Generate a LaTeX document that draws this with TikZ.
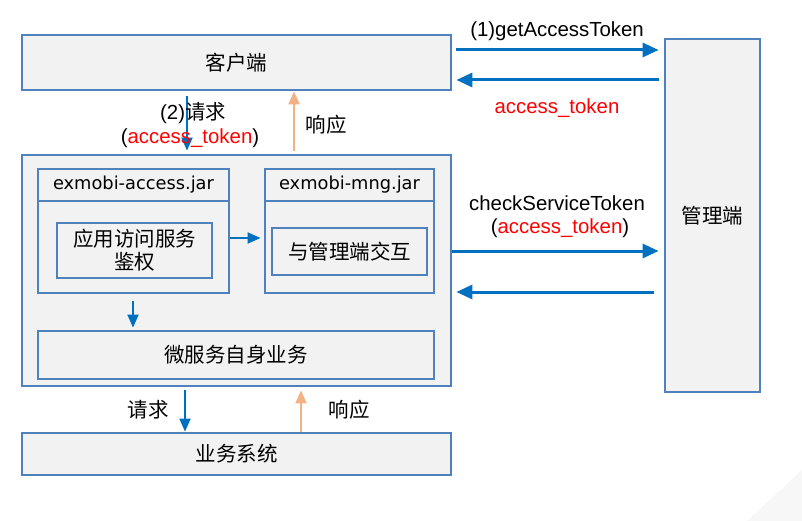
\documentclass[tikz,border=0pt]{standalone}
\usepackage{fontspec}
\setmainfont{Liberation Sans}
\newfontfamily\cjk{Noto Sans CJK SC}
\newfontfamily\verd{DejaVu Sans}
\usetikzlibrary{arrows.meta}
\definecolor{edge}{HTML}{4F81BD}
\definecolor{boxfill}{HTML}{F2F2F2}
\definecolor{arr}{HTML}{0070C0}
\definecolor{resp}{HTML}{F4B183}
\begin{document}
\begin{tikzpicture}[x=1pt, y=-1pt, font=\fontsize{20.4}{23}\selectfont,
	b/.style={draw=edge, fill=boxfill, line width=2.8pt, inner sep=0pt, font=\fontsize{20.5}{23}\selectfont\cjk},
	h/.style={b, font=\fontsize{17.8}{20}\selectfont\verd},
	a/.style={draw=arr, line width=3pt, -{Triangle[length=16pt,width=14pt]}},
	t/.style={draw=arr, line width=2pt, -{Triangle[length=13pt,width=11pt]}},
	o/.style={draw=resp, line width=2pt, -{Triangle[length=13pt,width=11pt]}},
	r/.style={text=red}]
	\useasboundingbox (0,0) rectangle (802,521);
	\fill[gray!6] (747,521) -- (802,470) -- (802,521) -- cycle;

	\node[b, minimum width=429pt, minimum height=55pt] (C) at (236.5,62.5) {客户端};
	\node[b, minimum width=95pt, minimum height=353pt] (M) at (712.5,215.5) {管理端};
	\node[b, minimum width=429pt, minimum height=231pt] (W) at (236.5,270.5) {};
	\node[b, minimum width=191pt, minimum height=92pt] (Ab) at (133.5,247) {};
	\node[h, minimum width=191pt, minimum height=32pt] (Ah) at (133.5,185) {exmobi-access.jar};
	\node[b, minimum width=155pt, minimum height=55pt, align=center] (Auth) at (134.5,250.5) {应用访问服务\\鉴权};
	\node[b, minimum width=169pt, minimum height=92pt] (Mb) at (349.5,247) {};
	\node[h, minimum width=169pt, minimum height=32pt] (Mh) at (349.5,185) {exmobi-mng.jar};
	\node[b, minimum width=155pt, minimum height=47pt] (Mi) at (349.5,251.5) {与管理端交互};
	\node[b, minimum width=396pt, minimum height=48pt] (S) at (236,355) {微服务自身业务};
	\node[b, minimum width=429pt, minimum height=42pt] (B) at (236.5,454) {业务系统};

	% client <-> manager
	\draw[a, shorten <=4pt, shorten >=5pt] ([yshift=12.5pt]C.east) coordinate (g1) -- (g1 -| M.west);
	\draw[a, shorten <=5pt, shorten >=4pt] ([yshift=-17.5pt]C.east -| M.west) coordinate (g2) -- (g2 -| C.east);
	\node (L1) at (557,31) {(1)getAccessToken};
	\node[r] (L2) at (557,108) {access\_token};

	% service <-> manager
	\draw[a, shorten >=5pt] ([yshift=19.5pt]W.east) coordinate (k1) -- (k1 -| M.west);
	\draw[a, shorten <=10pt, shorten >=4pt] ([yshift=-21.5pt]W.east -| M.west) coordinate (k2) -- (k2 -| W.east);
	\node (L3) at (557,203) {checkServiceToken};
	\node (L4) at (560,228) {(\textcolor{red}{access\_token})};

	% client <-> service
	\draw[t, shorten <=5pt, shorten >=3pt] ([xshift=-49.5pt]C.south) coordinate (q1) -- (q1 |- W.north);
	\draw[o, shorten <=3pt] ([xshift=57.5pt]W.north) coordinate (q2) -- (q2 |- C.south);
	\node (L5) at (193,113) {(2){\cjk 请求}};
	\node (L6) at (190,138) {(\textcolor{red}{access\_token})};
	\node[font=\fontsize{20.5}{23}\selectfont\cjk] (L7) at (326,125) {响应};

	% inside service
	\draw[t, shorten >=3pt] ([yshift=9pt]Ab.east) coordinate (m1) -- (m1 -| Mb.west);
	\draw[t, shorten <=7pt, shorten >=2pt] ([xshift=-0.5pt]Ab.south) coordinate (m2) -- (m2 |- S.north);

	% service <-> business system
	\draw[t, shorten <=3pt] ([xshift=-51.5pt]W.south) coordinate (p1) -- (p1 |- B.north);
	\draw[o, shorten >=3pt] ([xshift=64.5pt]B.north) coordinate (p2) -- (p2 |- W.south);
	\node[font=\fontsize{20.5}{23}\selectfont\cjk] (L8) at (148,410) {请求};
	\node[font=\fontsize{20.5}{23}\selectfont\cjk] (L9) at (349,410) {响应};
\end{tikzpicture}
\end{document}
